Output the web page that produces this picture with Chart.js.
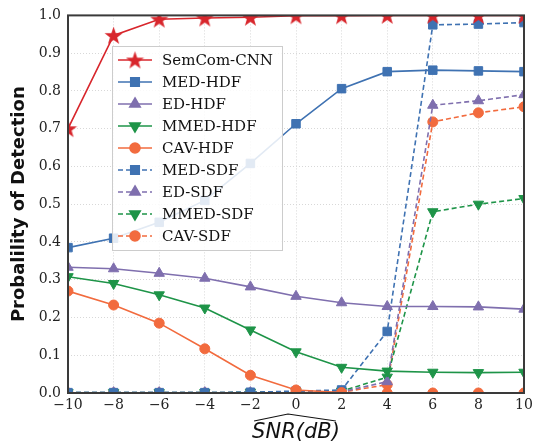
<!DOCTYPE html>
<html>
<head>
<meta charset="utf-8">
<script src="https://cdn.jsdelivr.net/npm/chart.js@4.4.1/dist/chart.umd.min.js"></script>
<style>
  html, body { margin: 0; padding: 0; background: #fff; }
  #wrap { width: 534px; height: 443px; }
</style>
</head>
<body>
<div id="wrap"><canvas id="myChart" width="534" height="443"></canvas></div>
<script>
// x axis: SNR in dB
const snr = [-10, -8, -6, -4, -2, 0, 2, 4, 6, 8, 10];

// detection probabilities
const semcomCnn = [0.70, 0.947, 0.990, 0.993, 0.995, 0.999, 0.999, 1.0, 1.0, 1.0, 1.0];
const medHdf = [0.385, 0.410, 0.452, 0.510, 0.608, 0.713, 0.806, 0.851, 0.855, 0.853, 0.851];
const edHdf = [0.333, 0.329, 0.317, 0.304, 0.281, 0.256, 0.239, 0.229, 0.229, 0.228, 0.222];
const mmedHdf = [0.308, 0.290, 0.260, 0.225, 0.167, 0.109, 0.068, 0.058, 0.055, 0.054, 0.055];
const cavHdf = [0.270, 0.233, 0.185, 0.117, 0.047, 0.008, 0.001, 0.0, 0.0, 0.0, 0.0];
const medSdf = [0.001, 0.001, 0.001, 0.001, 0.002, 0.005, 0.008, 0.163, 0.975, 0.977, 0.981];
const edSdf = [0.001, 0.001, 0.001, 0.001, 0.001, 0.002, 0.003, 0.030, 0.762, 0.774, 0.790];
const mmedSdf = [0.001, 0.001, 0.001, 0.001, 0.002, 0.003, 0.005, 0.042, 0.480, 0.500, 0.515];
const cavSdf = [0.0, 0.0, 0.0, 0.0, 0.0, 0.001, 0.002, 0.022, 0.718, 0.742, 0.758];

const yTicks = [0.0, 0.1, 0.2, 0.3, 0.4, 0.5, 0.6, 0.7, 0.8, 0.9, 1.0];

const RED = '#d8262c';
const BLUE = '#3f72b2';
const PURPLE = '#7f6fae';
const GREEN = '#1e9448';
const ORANGE = '#f26b3e';

// filled 5 point star, the built in 'star' is only an asterisk
function makeStar(color, size) {
    const c = document.createElement('canvas');
    c.width = size; c.height = size;
    const g = c.getContext('2d');
    const cx = size / 2, cy = size / 2 + 0.8, R = size / 2, r = R * 0.4;
    g.beginPath();
    for (let i = 0; i < 10; i++) {
        const rad = i % 2 === 0 ? R : r;
        const a = -Math.PI / 2 + i * Math.PI / 5;
        g.lineTo(cx + rad * Math.cos(a), cy + rad * Math.sin(a));
    }
    g.closePath();
    g.fillStyle = color;
    g.fill();
    return c;
}
const starImg = makeStar(RED, 19);

function toXY(vals) {
    return vals.map((v, i) => ({ x: snr[i], y: v }));
}

function series(label, vals, color, style, dashed, radius, rotation) {
    return {
        label: label,
        data: toXY(vals),
        borderColor: color,
        backgroundColor: color,
        pointBackgroundColor: color,
        pointBorderColor: color,
        pointBorderWidth: 1,
        borderWidth: 1.6,
        borderDash: dashed ? [5, 3] : [],
        pointStyle: style,
        pointRadius: radius,
        pointRotation: rotation || 0,
        tension: 0,
        clip: 0
    };
}

const datasets = [
    series('SemCom-CNN', semcomCnn, RED, starImg, false, 9),
    series('MED-HDF', medHdf, BLUE, 'rect', false, 6),
    series('ED-HDF', edHdf, PURPLE, 'triangle', false, 6),
    series('MMED-HDF', mmedHdf, GREEN, 'triangle', false, 6, 180),
    series('CAV-HDF', cavHdf, ORANGE, 'circle', false, 5),
    series('MED-SDF', medSdf, BLUE, 'rect', true, 6),
    series('ED-SDF', edSdf, PURPLE, 'triangle', true, 6),
    series('MMED-SDF', mmedSdf, GREEN, 'triangle', true, 6, 180),
    series('CAV-SDF', cavSdf, ORANGE, 'circle', true, 5)
];

// legend box drawn inside the plot area
const innerLegend = {
    id: 'innerLegend',
    afterDatasetsDraw(chart) {
        const ctx = chart.ctx;
        const x0 = 112, y0 = 46, w = 170, rowH = 22;
        const h = datasets.length * rowH + 6;
        ctx.save();
        ctx.fillStyle = 'rgba(255,255,255,0.85)';
        ctx.strokeStyle = '#cccccc';
        ctx.lineWidth = 1;
        ctx.fillRect(x0, y0, w, h);
        ctx.strokeRect(x0 + 0.5, y0 + 0.5, w, h);
        chart.data.datasets.forEach((ds, i) => {
            const y = y0 + 14 + i * rowH;
            ctx.strokeStyle = ds.borderColor;
            ctx.lineWidth = ds.borderWidth;
            ctx.setLineDash(ds.borderDash);
            ctx.beginPath();
            ctx.moveTo(118, y);
            ctx.lineTo(152, y);
            ctx.stroke();
            ctx.setLineDash([]);
            ctx.fillStyle = ds.backgroundColor;
            Chart.helpers.drawPoint(ctx, {
                pointStyle: ds.pointStyle,
                radius: ds.pointRadius,
                rotation: ds.pointRotation,
                borderWidth: 1
            }, 135, y);
            ctx.fillStyle = '#111';
            ctx.font = '15px "DejaVu Serif"';
            ctx.textBaseline = 'middle';
            ctx.textAlign = 'left';
            ctx.fillText(ds.label, 162, y + 1);
        });
        ctx.restore();
    }
};

// frame round the plot and the x title with its wide hat
const frameAndTitle = {
    id: 'frameAndTitle',
    afterDraw(chart) {
        const ctx = chart.ctx;
        const a = chart.chartArea;
        ctx.save();
        ctx.strokeStyle = '#3a3a3a';
        ctx.lineWidth = 2;
        ctx.strokeRect(a.left, a.top, a.right - a.left, a.bottom - a.top);

        const cx = (a.left + a.right) / 2;
        ctx.font = 'oblique 21px "DejaVu Sans"';
        ctx.fillStyle = '#111';
        ctx.textAlign = 'center';
        ctx.textBaseline = 'alphabetic';
        const txt = 'SNR(dB)';
        ctx.fillText(txt, cx, 438);
        const tw = ctx.measureText(txt).width;
        ctx.strokeStyle = '#111';
        ctx.lineWidth = 1.2;
        ctx.beginPath();
        ctx.moveTo(cx - tw / 2 + 2, 421);
        ctx.lineTo(cx - 8, 414);
        ctx.lineTo(cx + tw / 2 - 4, 421);
        ctx.stroke();
        ctx.restore();
    }
};

const tickFont = { family: 'DejaVu Serif', size: 14 };

var ctx = document.getElementById('myChart').getContext('2d');
var myChart = new Chart(ctx, {
    type: 'line',
    data: { datasets: datasets },
    options: {
        responsive: false,
        animation: false,
        layout: { padding: { top: 15, right: 10, left: 0, bottom: 0 } },
        plugins: {
            legend: { display: false },
            tooltip: { enabled: false }
        },
        scales: {
            x: {
                type: 'linear',
                min: -10,
                max: 10,
                afterFit: (s) => {
                    s.height = 50;
                    s.paddingLeft = 0;
                    s.paddingRight = 0;
                },
                afterBuildTicks: (s) => { s.ticks = snr.map(v => ({ value: v })); },
                ticks: {
                    font: tickFont,
                    color: '#222',
                    padding: 4,
                    maxRotation: 0,
                    callback: (v) => (v < 0 ? '\u2212' + Math.abs(v) : '' + v)
                },
                grid: { color: '#d8d8d8', lineWidth: 1, drawTicks: false },
                border: { display: false, dash: [1, 2] }
            },
            y: {
                min: 0,
                max: 1,
                afterFit: (s) => { s.width = 68; },
                afterBuildTicks: (s) => { s.ticks = yTicks.map(v => ({ value: v })); },
                ticks: {
                    font: tickFont,
                    color: '#222',
                    padding: 7,
                    callback: (v) => v.toFixed(1)
                },
                grid: { color: '#d8d8d8', lineWidth: 1, drawTicks: false },
                border: { display: false, dash: [1, 2] },
                title: {
                    display: true,
                    text: 'Probalility of Detection',
                    font: { family: 'DejaVu Sans', size: 18, weight: 'bold' },
                    color: '#111',
                    padding: { top: 9, bottom: 0 }
                }
            }
        }
    },
    plugins: [innerLegend, frameAndTitle]
});
</script>
</body>
</html>
